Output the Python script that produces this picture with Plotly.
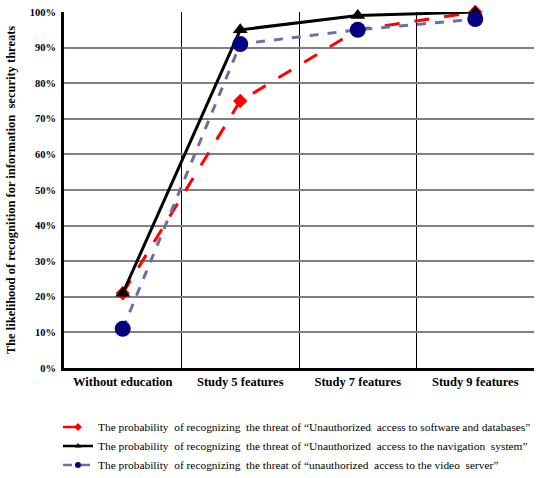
import plotly.graph_objects as go

categories = ["Without education", "Study 5 features", "Study 7 features", "Study 9 features"]
software_db = [21, 75, 95, 100]
navigation = [21, 95, 99, 100]
video_server = [11, 91, 95, 98]
names = [
    "The probability  of recognizing  the threat of \u201cUnauthorized  access to software and databases\u201d",
    "The probability  of recognizing  the threat of \u201cUnauthorized  access to the navigation  system\u201d",
    "The probability  of recognizing  the threat of \u201cunauthorized  access to the video  server\u201d",
]
y_ticks = [0, 10, 20, 30, 40, 50, 60, 70, 80, 90, 100]

serif = "Liberation Serif"
styles = [
    (software_db, dict(color="#ff0000", width=3, dash="longdash"), dict(symbol="diamond", size=11, color="#ff0000"), 6),
    (navigation, dict(color="#000000", width=3), dict(symbol="triangle-up", size=13, color="#000000"), 6),
    (video_server, dict(color="#6e6ea0", width=3, dash="dash"), dict(symbol="circle", size=16, color="#000080"), 6),
]
fig = go.Figure()
for (vals, ln, mk, lsize), nm in zip(styles, names):
    fig.add_trace(go.Scatter(x=categories, y=vals, name=nm, mode="lines+markers",
                             line=ln, marker=mk, showlegend=False, cliponaxis=False))
for (vals, ln, mk, lsize), nm in zip(styles, names):
    fig.add_trace(go.Scatter(x=[None], y=[None], name=nm, mode="lines+markers",
                             line=dict(ln, width=2.5), marker=dict(mk, size=lsize), showlegend=True))

fig.update_layout(
    width=536, height=478,
    margin=dict(l=64, r=2, t=12, b=110),
    plot_bgcolor="white", paper_bgcolor="white",
    font=dict(family=serif, color="black"),
    showlegend=True,
    legend=dict(x=-0.0065, y=0.137, yref="container", xanchor="left", yanchor="top",
                font=dict(family=serif, size=11.4), tracegroupgap=0,
                itemwidth=30, bgcolor="rgba(0,0,0,0)"),
    xaxis=dict(type="category", tickson="boundaries", showgrid=True, gridcolor="#000000",
               gridwidth=1, ticks="", showline=True, linecolor="black", linewidth=3,
               tickfont=dict(family=serif, size=12.5, color="black", weight="bold"),
               range=[-0.5, 3.5], automargin=False),
    yaxis=dict(range=[0, 100], tickvals=y_ticks, ticktext=[f"{v}%" for v in y_ticks],
               showgrid=True, gridcolor="#808080", gridwidth=1.5, showline=True,
               linecolor="black", linewidth=3, ticks="", zeroline=False, automargin=False,
               ticklabelstandoff=3,
               tickfont=dict(family=serif, size=10.5, color="black", weight="bold"),
               title=dict(text="The likelihood of recognition for information  security threats",
                          font=dict(family=serif, size=12.5, color="black", weight="bold"),
                          standoff=12)),
)
fig.write_html("out.html", config={"displayModeBar": False},
               post_script="document.body.style.margin='0';")
